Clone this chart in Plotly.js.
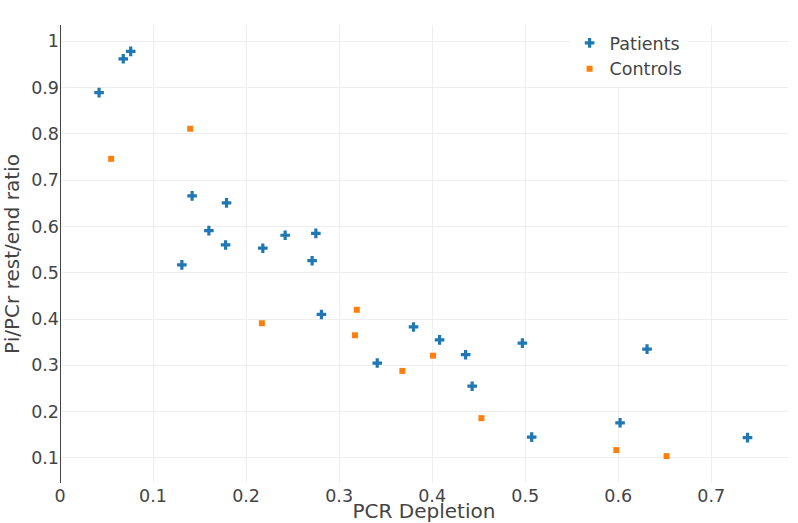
<!DOCTYPE html>
<html><head><meta charset="utf-8">
<script src="https://cdn.plot.ly/plotly-3.0.1.min.js"></script>
<style>html,body{margin:0;padding:0;background:#fff}</style>
</head><body>
<div id="chart" style="width:798px;height:523px"></div>
<script>
const patientsX = [0.042, 0.068, 0.076, 0.142, 0.131, 0.160, 0.179, 0.178, 0.218, 0.242, 0.275, 0.271, 0.281, 0.341, 0.380, 0.408, 0.436, 0.443, 0.497, 0.507, 0.602, 0.631, 0.739];
const patientsY = [0.889, 0.962, 0.978, 0.666, 0.517, 0.591, 0.651, 0.560, 0.553, 0.581, 0.585, 0.526, 0.410, 0.305, 0.383, 0.355, 0.323, 0.255, 0.348, 0.145, 0.176, 0.335, 0.144];
const controlsX = [0.055, 0.140, 0.217, 0.319, 0.317, 0.368, 0.401, 0.453, 0.598, 0.652];
const controlsY = [0.746, 0.811, 0.391, 0.420, 0.365, 0.288, 0.321, 0.186, 0.117, 0.104];

const traces = [
  {x: patientsX, y: patientsY, name: 'Patients', mode: 'markers', type: 'scatter',
   marker: {symbol: 'cross', size: 8, color: '#1f77b4'}},
  {x: controlsX, y: controlsY, name: 'Controls', mode: 'markers', type: 'scatter',
   marker: {symbol: 'square', size: 6, color: '#ff7f0e'}}
];
const layout = {
  width: 798, height: 523,
  margin: {l: 60, r: 10, t: 25, b: 40},
  font: {family: '"DejaVu Sans", verdana, arial, sans-serif', color: '#444'},
  paper_bgcolor: '#fff', plot_bgcolor: '#fff',
  showlegend: true,
  legend: {x: 0.70, y: 1, xanchor: 'left', yanchor: 'top', bgcolor: '#fff', font: {size: 17.5}},
  xaxis: {title: {text: 'PCR Depletion', font: {size: 20}, standoff: 0}, range: [0, 0.7825],
          dtick: 0.1, tickfont: {size: 17.5}, gridcolor: '#eee', zeroline: true, zerolinecolor: '#444', zerolinewidth: 1},
  yaxis: {title: {text: 'Pi/PCr rest/end ratio', font: {size: 20}, standoff: 10}, range: [0.046, 1.035],
          dtick: 0.1, tickfont: {size: 17.5}, gridcolor: '#eee', zeroline: false}
};
Plotly.newPlot('chart', traces, layout, {displayModeBar: false});
</script>
</body></html>
